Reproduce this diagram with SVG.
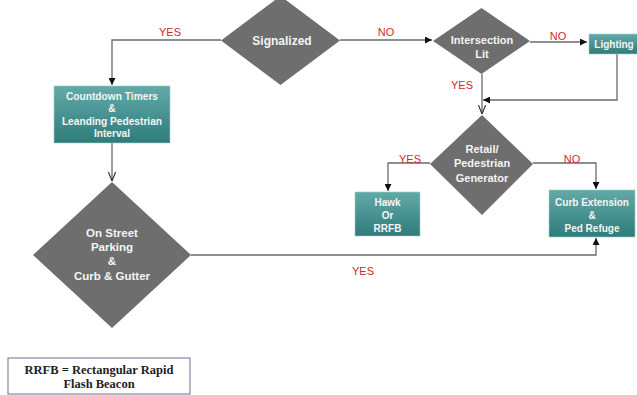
<svg xmlns="http://www.w3.org/2000/svg" width="637" height="395" viewBox="0 0 637 395">
<defs>
<linearGradient id="teal" x1="0" y1="0" x2="0" y2="1">
<stop offset="0" stop-color="#62aaa8"/>
<stop offset="1" stop-color="#2f7c7b"/>
</linearGradient>
<marker id="arr" viewBox="0 0 10 10" refX="10" refY="5" markerWidth="7" markerHeight="7" orient="auto-start-reverse" markerUnits="userSpaceOnUse">
<path d="M0,0 L10,5 L0,10 z" fill="#111"/>
</marker>
<marker id="open" viewBox="0 0 10 10" refX="10" refY="5" markerWidth="9" markerHeight="9" orient="auto" markerUnits="userSpaceOnUse">
<path d="M0,1 L10,5 L0,9" fill="none" stroke="#333" stroke-width="1.3"/>
</marker>
</defs>
<style>
.dia{fill:#6e6e6e;}
.box{fill:url(#teal);stroke:#a8c8c8;stroke-width:0.6;}
.wt{fill:#f4f4f4;font-family:"Liberation Sans",Arial,sans-serif;font-weight:bold;text-anchor:middle;}
.lbl{fill:#d02a2a;font-family:"Liberation Sans",Arial,sans-serif;font-size:11px;text-anchor:middle;}
.ln{fill:none;stroke:#6a6a6a;stroke-width:1.3;}
.leg{fill:#222;font-family:"Liberation Serif","Times New Roman",serif;font-weight:bold;font-size:12.5px;text-anchor:middle;}
</style>
<rect width="637" height="395" fill="#ffffff"/>

<g id="connectors">
<path class="ln" d="M221,40 H112 V85" marker-end="url(#arr)"/>
<path class="ln" d="M112,143 V181" marker-end="url(#open)"/>
<path class="ln" d="M191,255 H596 V238" marker-end="url(#arr)"/>
<path class="ln" d="M340,40 H432" marker-end="url(#arr)"/>
<path class="ln" d="M530,42 H587" marker-end="url(#arr)"/>
<path class="ln" d="M617,54 V100 H483" marker-end="url(#arr)"/>
<path class="ln" d="M482,74 V114" marker-end="url(#open)"/>
<path class="ln" d="M430,163 H388 V191" marker-end="url(#arr)"/>
<path class="ln" d="M533,163 H596 V189" marker-end="url(#arr)"/>
<text class="lbl" x="170" y="36">YES</text>
<text class="lbl" x="386" y="36">NO</text>
<text class="lbl" x="558" y="40">NO</text>
<text class="lbl" x="462" y="89">YES</text>
<text class="lbl" x="410" y="163">YES</text>
<text class="lbl" x="572" y="163">NO</text>
<text class="lbl" x="363" y="275">YES</text>
</g>

<g id="signalized">
<polygon class="dia" points="280.5,-4 340,40.5 280.5,85 221,40.5"/>
<text class="wt" x="282" y="44.5" font-size="12">Signalized</text>
</g>

<g id="countdown">
<rect class="box" x="54" y="86" width="116" height="57"/>
<text class="wt" font-size="10.2"><tspan x="112" y="100">Countdown Timers</tspan><tspan x="112" y="112">&amp;</tspan><tspan x="112" y="124.5">Leanding Pedestrian</tspan><tspan x="112" y="136.5">Interval</tspan></text>
</g>

<g id="onstreet">
<polygon class="dia" points="112,182 191,255 112,328 33,255"/>
<text class="wt" font-size="11.5"><tspan x="112" y="237">On Street</tspan><tspan x="112" y="251">Parking</tspan><tspan x="112" y="265">&amp;</tspan><tspan x="112" y="280">Curb &amp; Gutter</tspan></text>
</g>

<g id="intersection">
<polygon class="dia" points="481.5,8 530,41 481.5,74 433,41"/>
<text class="wt" font-size="11"><tspan x="482" y="44">Intersection</tspan><tspan x="482" y="58">Lit</tspan></text>
</g>

<g id="lighting">
<rect class="box" x="589" y="34" width="52" height="20"/>
<text class="wt" x="614" y="48" font-size="10">Lighting</text>
</g>

<g id="retail">
<polygon class="dia" points="482,115 533,164 482,215 430,164"/>
<text class="wt" font-size="11"><tspan x="482" y="153">Retail/</tspan><tspan x="482" y="167">Pedestrian</tspan><tspan x="482" y="182">Generator</tspan></text>
</g>

<g id="hawk">
<rect class="box" x="355" y="192" width="65" height="44"/>
<text class="wt" font-size="10"><tspan x="387.5" y="205.5">Hawk</tspan><tspan x="387.5" y="218.5">Or</tspan><tspan x="387.5" y="231.5">RRFB</tspan></text>
</g>

<g id="curb">
<rect class="box" x="549" y="190" width="86" height="47"/>
<text class="wt" font-size="10"><tspan x="592" y="205.5">Curb Extension</tspan><tspan x="592" y="218.5">&amp;</tspan><tspan x="592" y="231.5">Ped Refuge</tspan></text>
</g>

<g id="legend">
<rect x="8" y="358" width="182" height="36" fill="#ffffff" stroke="#8a84a0" stroke-width="1.2"/>
<text class="leg"><tspan x="99" y="373.5">RRFB = Rectangular Rapid</tspan><tspan x="99" y="388">Flash Beacon</tspan></text>
</g>
</svg>
